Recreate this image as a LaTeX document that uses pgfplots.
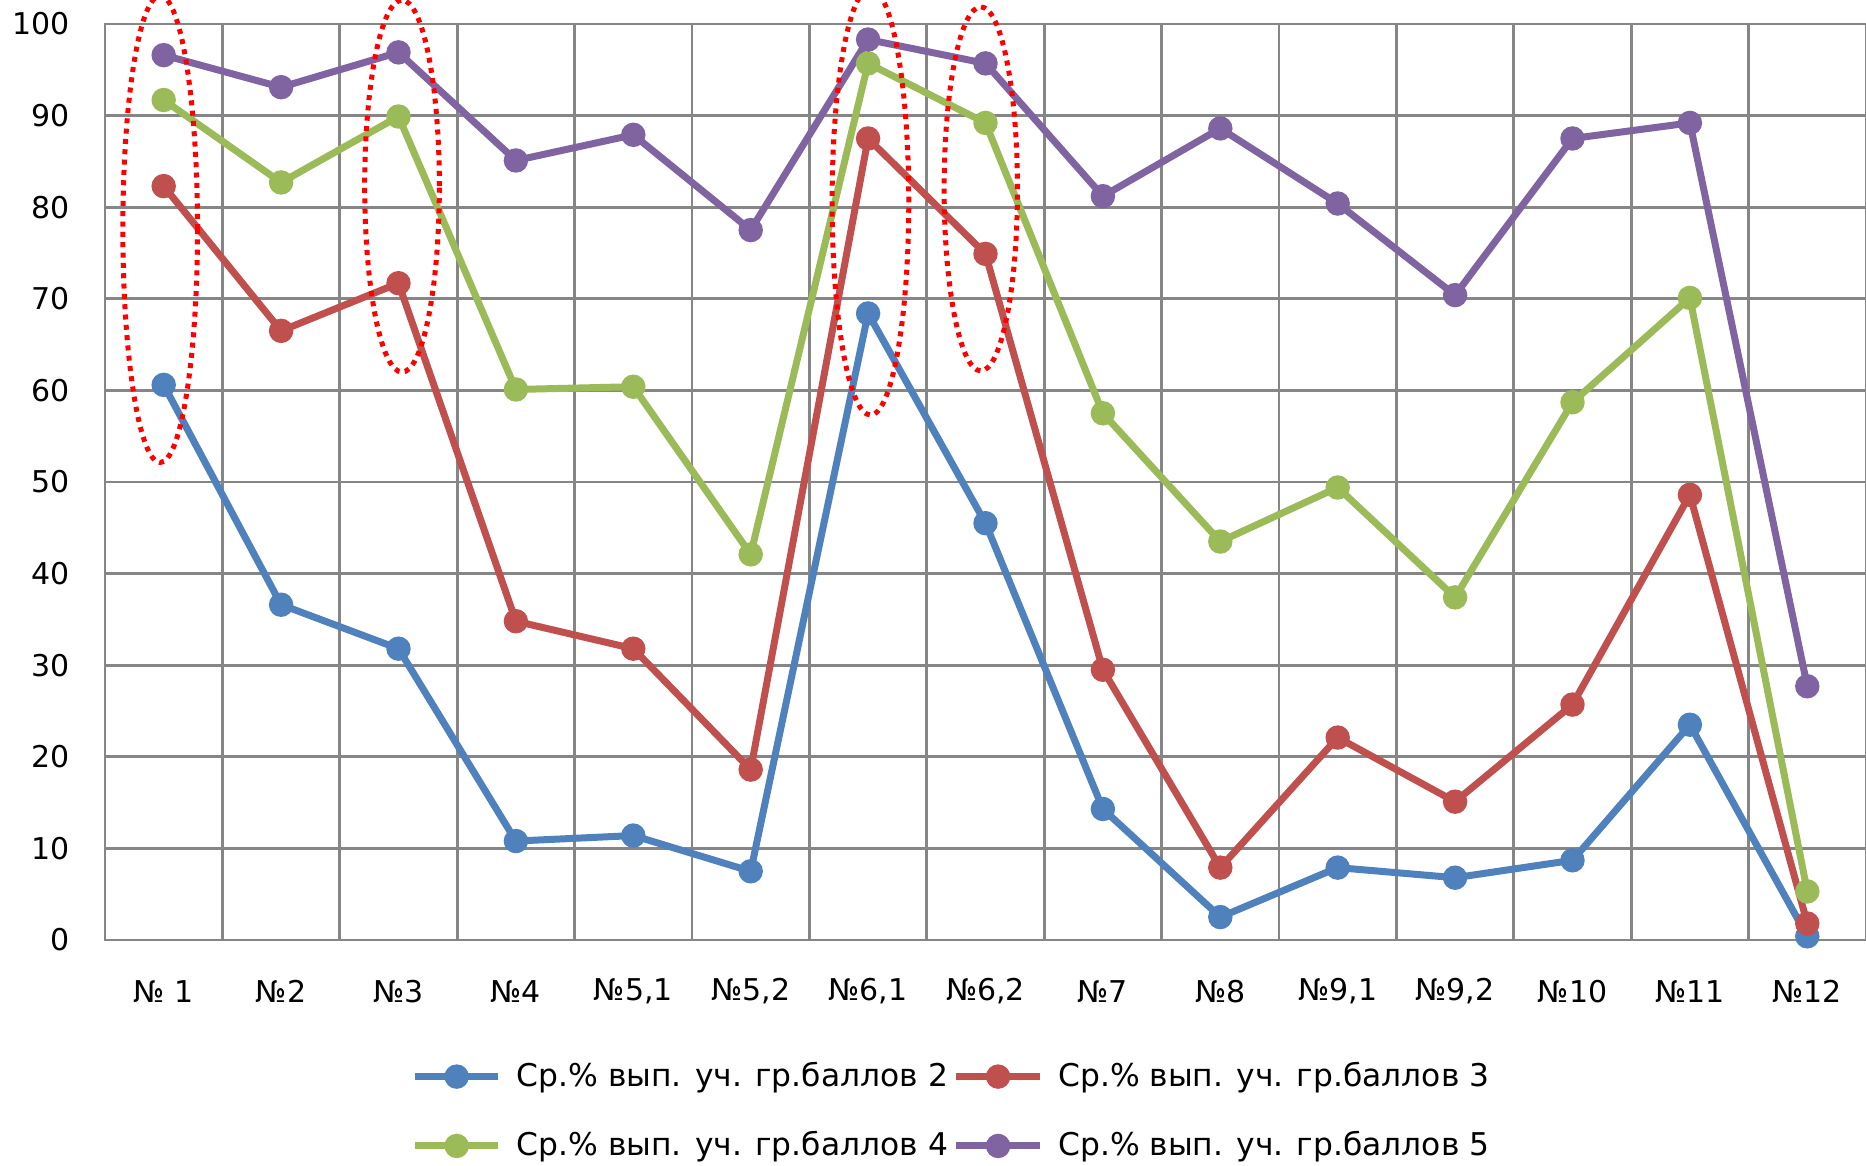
\documentclass[border=0pt]{standalone}
\usepackage{pgfplots}
\pgfplotsset{compat=1.18}
\usepackage{fontspec}
\setmainfont{DejaVu Sans}

\definecolor{sblue}{HTML}{4F81BD}
\definecolor{sred}{HTML}{C0504D}
\definecolor{sgreen}{HTML}{9BBB59}
\definecolor{spurple}{HTML}{8064A2}
\definecolor{gridgray}{HTML}{868686}

\begin{document}
\begin{tikzpicture}
\begin{axis}[
    name=ax,
    scale only axis, width=528.3pt, height=274.8pt,
    xmin=-0.5, xmax=14.5, ymin=0, ymax=100,
    xtick={0,...,14},
    xticklabels={№ 1,№2,№3,№4,{№5,1},{№5,2},{№6,1},{№6,2},№7,№8,{№9,1},{№9,2},№10,№11,№12},
    minor xtick={-0.5,0.5,...,14.5},
    ytick={0,10,...,100},
    xminorgrids, ymajorgrids,
    major tick length=0pt, minor tick length=0pt,
    grid style={gridgray, line width=0.85pt},
    minor grid style={gridgray, line width=0.85pt},
    axis line style={gridgray, line width=0.85pt},
    tick label style={font=\fontsize{9}{11}\selectfont, black},
    /pgf/number format/assume math mode=true,
    yticklabel style={anchor=east, xshift=-7pt},
    xticklabel style={anchor=center, yshift=-15.4pt},
    legend columns=2,
    legend cell align=left,
    legend style={at={(0.482,-0.187)}, anchor=center, draw=none, fill=none,
      font=\fontsize{9.4}{11}\selectfont, row sep=8pt,
      /tikz/every even column/.append style={column sep=-0.5pt},
      /tikz/every odd column/.append style={column sep=2.5pt}},
    legend image code/.code={\draw[mark repeat=2, mark phase=2, #1] plot coordinates {(0pt,0pt) (12.5pt,0pt) (25pt,0pt)};},
    clip=false,
    every axis plot/.append style={line width=2.1pt, mark=*, mark size=2.6pt},
  ]
  % x: 0 = №1 ... 14 = №12
  \addplot[sblue, mark options={fill=sblue}] coordinates {
    (0,60.6) (1,36.6) (2,31.8) (3,10.8) (4,11.4) (5,7.5) (6,68.4) (7,45.5)
    (8,14.3) (9,2.5) (10,7.9) (11,6.8) (12,8.7) (13,23.5) (14,0.4)};
  \addlegendentry{Ср.\% вып. уч. гр.баллов 2}
  \addplot[sred, mark options={fill=sred}] coordinates {
    (0,82.3) (1,66.5) (2,71.7) (3,34.8) (4,31.8) (5,18.6) (6,87.5) (7,74.9)
    (8,29.5) (9,7.9) (10,22.1) (11,15.1) (12,25.7) (13,48.6) (14,1.8)};
  \addlegendentry{Ср.\% вып. уч. гр.баллов 3}
  \addplot[sgreen, mark options={fill=sgreen}] coordinates {
    (0,91.7) (1,82.7) (2,89.9) (3,60.1) (4,60.4) (5,42.1) (6,95.7) (7,89.2)
    (8,57.5) (9,43.5) (10,49.4) (11,37.4) (12,58.7) (13,70.1) (14,5.3)};
  \addlegendentry{Ср.\% вып. уч. гр.баллов 4}
  \addplot[spurple, mark options={fill=spurple}] coordinates {
    (0,96.6) (1,93.1) (2,96.9) (3,85.1) (4,87.9) (5,77.5) (6,98.3) (7,95.7)
    (8,81.2) (9,88.6) (10,80.4) (11,70.4) (12,87.5) (13,89.2) (14,27.7)};
  \addlegendentry{Ср.\% вып. уч. гр.баллов 5}

  % red dotted highlight ellipses
  \draw[red, line width=1.5pt, dash pattern=on 1.5pt off 1.6pt] (axis cs:-0.03,77.6) ellipse [x radius=11.2pt, y radius=70pt];
  \draw[red, line width=1.5pt, dash pattern=on 1.5pt off 1.6pt] (axis cs:2.03,82.3) ellipse [x radius=11.2pt, y radius=55.8pt];
  \draw[red, line width=1.5pt, dash pattern=on 1.5pt off 1.6pt] (axis cs:6.02,80.6) ellipse [x radius=11.5pt, y radius=64pt];
  \draw[red, line width=1.5pt, dash pattern=on 1.5pt off 1.6pt] (axis cs:6.96,82) ellipse [x radius=11pt, y radius=54.6pt];
\end{axis}
\pgfresetboundingbox
\useasboundingbox ([xshift=-31.5pt,yshift=7.2pt]ax.north west) rectangle ([yshift=-67.8pt]ax.south east);
\end{tikzpicture}
\end{document}
